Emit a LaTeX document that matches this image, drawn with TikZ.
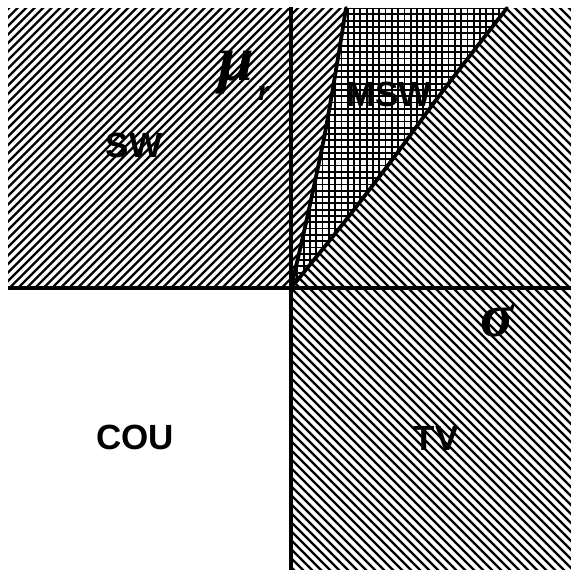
\documentclass[tikz,border=0pt]{standalone}
\usepackage{fontspec}
\setsansfont{Liberation Sans}
\newfontfamily\grk{Liberation Serif}
\tikzset{
  lbl/.style={font=\sffamily\bfseries\fontsize{35}{40}\selectfont, inner sep=0pt},
  hatchline/.style={line width=2.3pt},
  gridline/.style={line width=1.8pt},
  axis/.style={line width=4pt},
  bound/.style={line width=3.8pt, line join=round, line cap=round},
}
\begin{document}
\begin{tikzpicture}[x=1pt,y=-1pt]
\useasboundingbox (0,0) rectangle (571,570);
% SW region and strip left of first boundary: "/" hatching
\begin{scope}
\clip (8,8) -- (346,8) -- plot[smooth] coordinates {(346,8) (338,58) (325,133) (311,200) (301,245) (291,288)} -- (8,288) -- cycle;
\foreach \c in {-600,-591.5,...,700} \draw[hatchline] (\c,600) -- (\c+600,0);
\end{scope}
% MSW: grid
\begin{scope}
\clip plot[smooth] coordinates {(291,288) (301,245) (311,200) (325,133) (338,58) (346,8)} -- (507,8) -- plot[smooth] coordinates {(507,8) (472,53) (436,100) (392,160) (342,225) (291,288)} -- cycle;
\foreach \x in {291,297.3,...,512} \draw[gridline] (\x,0) -- (\x,300);
\foreach \y in {8,14.3,...,292} \draw[gridline] (280,\y) -- (520,\y);
\end{scope}
% right of second boundary and TV: "\" hatching
\begin{scope}
\clip (507,8) -- (571,8) -- (571,570) -- (291,570) -- (291,288) -- plot[smooth] coordinates {(291,288) (342,225) (392,160) (436,100) (472,53) (507,8)} -- cycle;
\foreach \c in {-600,-591,...,600} \draw[hatchline] (\c,0) -- (\c+600,600);
\end{scope}
% boundaries
\draw[bound] plot[smooth] coordinates {(291,288) (301,245) (311,200) (325,133) (338,58) (346,8)};
\draw[bound] plot[smooth] coordinates {(291,288) (342,225) (392,160) (436,100) (472,53) (507,8)};
\draw[axis] (8,288) -- (571,288);
\draw[axis] (291,7) -- (291,570);
% labels
\node[lbl] (sw) at (134,145) {SW};
\node[lbl] (msw) at (389,94) {MSW};
\node[lbl] (cou) at (135,437) {COU};
\node[lbl] (tv) at (436,438) {TV};
\node[inner sep=0pt, anchor=base west, font=\grk\bfseries\itshape\fontsize{64}{68}\selectfont] (mu) at (218,80) {μ};
\node[inner sep=0pt, anchor=base west, font=\grk\bfseries\itshape\fontsize{30}{32}\selectfont] (musub) at (258,100) {r};
\node[inner sep=0pt, anchor=base, font=\grk\bfseries\itshape\fontsize{62}{66}\selectfont] (sigma) at (497,336) {σ};
\end{tikzpicture}
\end{document}
